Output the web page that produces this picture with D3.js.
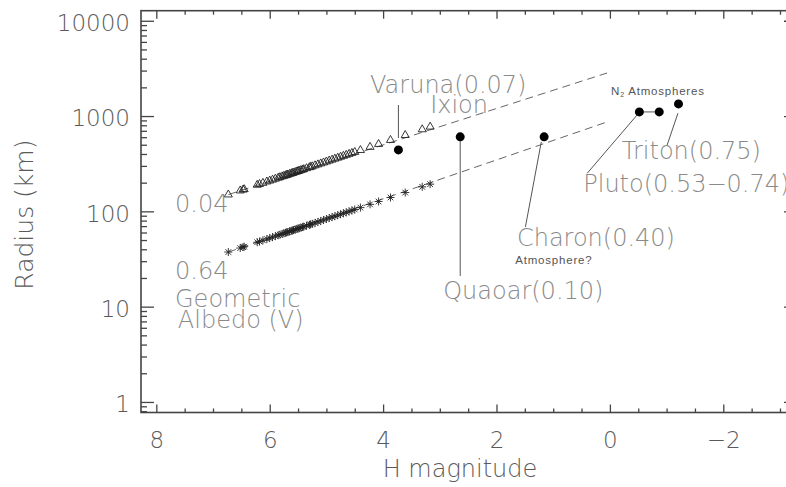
<!DOCTYPE html>
<html>
<head>
<meta charset="utf-8">
<script src="https://cdn.jsdelivr.net/npm/d3@7"></script>
<style>
    body { margin: 0; background: #fff; }
    svg { display: block; }
    .lbl { font-family: "DejaVu Sans", sans-serif; font-weight: 200; }
    .small { font-family: "Liberation Sans", Arial, sans-serif; letter-spacing: 0.8px; }
</style>
</head>
<body>
<script>
// H magnitude of each TNO (every object is plotted twice, once per albedo)
const H_MAG = [6.73, 6.52, 6.47, 6.45, 6.22, 6.18, 6.12, 6.05, 6.00, 5.95, 5.90, 5.85, 5.82, 5.78,
    5.75, 5.72, 5.70, 5.68, 5.65, 5.62, 5.60, 5.58, 5.55, 5.52, 5.50, 5.48, 5.45, 5.42, 5.40,
    5.35, 5.30, 5.28, 5.25, 5.20, 5.15, 5.10, 5.05, 5.00, 4.95, 4.90, 4.85, 4.80, 4.75, 4.70,
    4.65, 4.60, 4.55, 4.50, 4.40, 4.23, 4.08, 3.87, 3.61, 3.31, 3.17];

// radius (km) for albedo 0.04 (triangles)
const RADIUS_DARK = [149.8, 165.0, 168.8, 170.4, 189.4, 193.0, 198.4, 204.9, 209.6, 214.5, 219.5,
    224.6, 227.8, 232.0, 235.2, 238.5, 240.7, 242.9, 246.3, 249.7, 252.0, 254.4, 257.9, 261.5,
    263.9, 266.4, 270.1, 273.8, 276.4, 282.8, 289.4, 292.1, 296.1, 303.0, 310.1, 317.3, 324.7,
    332.3, 340.0, 347.9, 356.0, 364.3, 372.8, 381.5, 390.4, 399.5, 408.8, 418.3, 438.0, 473.7,
    507.5, 559.1, 630.2, 723.5, 771.7];

// radius (km) for albedo 0.64 (asterisks)
const RADIUS_BRIGHT = [37.4, 41.2, 42.2, 42.6, 47.4, 48.2, 49.6, 51.2, 52.4, 53.6, 54.9, 56.2,
    56.9, 58.0, 58.8, 59.6, 60.2, 60.7, 61.6, 62.4, 63.0, 63.6, 64.5, 65.4, 66.0, 66.6, 67.5,
    68.5, 69.1, 70.7, 72.3, 73.0, 74.0, 75.7, 77.5, 79.3, 81.2, 83.1, 85.0, 87.0, 89.0, 91.1,
    93.2, 95.4, 97.6, 99.9, 102.2, 104.6, 109.5, 118.4, 126.9, 139.8, 157.5, 180.9, 192.9];

// dashed albedo lines [H, radius]
const LINE_DARK = [[6.73, 149.8], [0.05, 2830]];
const LINE_BRIGHT = [[6.73, 37.4], [0.05, 867]];

// large bodies with measured sizes
const BODY_H = [3.73, 2.64, 1.16, -0.52, -0.87, -1.21];
const BODY_R = [441, 605, 605, 1105, 1105, 1340];

// leader lines [[H1, R1], [H2, R2]]
const LEADERS = [
    [[3.73, 1307], [3.73, 589]],    // Varuna
    [[2.64, 605], [2.64, 21]],      // Quaoar
    [[1.21, 535], [1.49, 68.6]],    // Charon
    [[-0.48, 1027], [0.40, 251]],   // Pluto
    [[-1.20, 1070], [-1.01, 497]],  // Triton
    [[-0.52, 1105], [-0.87, 1105]]  // Pluto range
];

// labels [text, H, R, class]
const LABELS = [
    ["Varuna(0.07)", 4.23, 1746, "big"],
    ["Ixion", 3.17, 1077, "big"],
    ["0.04", 7.67, 98.6, "big"],
    ["0.64", 7.67, 19.5, "big"],
    ["Geometric", 7.67, 9.93, "big"],
    ["Albedo (V)", 7.62, 5.98, "big"],
    ["Quaoar(0.10)", 2.94, 12.0, "big"],
    ["Charon(0.40)", 1.64, 43.4, "big"],
    ["Triton(0.75)", -0.21, 354, "big"],
    ["Pluto(0.53\u22120.74)", 0.47, 160, "big"],
    ["Atmosphere?", 1.67, 28.1, "small"],
];

const X_DOMAIN = [8.27, -3.3];
const Y_DOMAIN = [0.775, 12750];
const X_MAJOR = [8, 6, 4, 2, 0, -2];
const Y_MAJOR = [1, 10, 100, 1000, 10000];

const width = 786, height = 487;
const plotLeft = 141, plotRight = 797, plotTop = 10.7, plotBottom = 412.5;

const svg = d3.select("body").append("svg")
    .attr("width", width)
    .attr("height", height);

const x = d3.scaleLinear().domain(X_DOMAIN).range([plotLeft, plotRight]);
const y = d3.scaleLog().domain(Y_DOMAIN).range([plotBottom, plotTop]);

const xMinor = d3.range(-3, 8.01, 0.5).filter(v => X_MAJOR.indexOf(v) < 0);
const yMinor = y.ticks().filter(v => Y_MAJOR.indexOf(v) < 0);

const axisColor = "#444";

function styleAxis(g) {
    g.select(".domain").remove();
    g.selectAll("line").attr("stroke", axisColor).attr("stroke-width", 1.3);
    g.selectAll("text")
        .attr("class", "lbl")
        .attr("fill", "#5a5a5a")
        .attr("font-size", 23);
}

// bottom axis
svg.append("g").attr("transform", `translate(0,${plotBottom})`)
    .call(d3.axisBottom(x).tickValues(X_MAJOR).tickSize(-8).tickPadding(19).tickFormat(d3.format("d")))
    .call(styleAxis);
svg.append("g").attr("transform", `translate(0,${plotBottom})`)
    .call(d3.axisBottom(x).tickValues(xMinor).tickSize(-4).tickFormat(""))
    .call(styleAxis);
// top axis
svg.append("g").attr("transform", `translate(0,${plotTop})`)
    .call(d3.axisTop(x).tickValues(X_MAJOR).tickSize(-8).tickFormat(""))
    .call(styleAxis);
svg.append("g").attr("transform", `translate(0,${plotTop})`)
    .call(d3.axisTop(x).tickValues(xMinor).tickSize(-4).tickFormat(""))
    .call(styleAxis);
// left axis
svg.append("g").attr("transform", `translate(${plotLeft},0)`)
    .call(d3.axisLeft(y).tickValues(Y_MAJOR).tickSize(-13).tickPadding(11).tickFormat(d3.format("d")))
    .call(styleAxis)
    .selectAll("text").attr("dy", "0.43em");
svg.append("g").attr("transform", `translate(${plotLeft},0)`)
    .call(d3.axisLeft(y).tickValues(yMinor).tickSize(-6).tickFormat(""))
    .call(styleAxis);
// right axis
svg.append("g").attr("transform", `translate(${plotRight},0)`)
    .call(d3.axisRight(y).tickValues(Y_MAJOR).tickSize(-13).tickFormat(""))
    .call(styleAxis);
svg.append("g").attr("transform", `translate(${plotRight},0)`)
    .call(d3.axisRight(y).tickValues(yMinor).tickSize(-6).tickFormat(""))
    .call(styleAxis);

// frame
svg.append("rect")
    .attr("x", plotLeft).attr("y", plotTop)
    .attr("width", plotRight - plotLeft).attr("height", plotBottom - plotTop)
    .attr("fill", "none")
    .attr("stroke", axisColor)
    .attr("stroke-width", 1.6);

// axis titles
svg.append("text")
    .attr("class", "lbl")
    .attr("x", (plotLeft + 785) / 2 - 3).attr("y", 477)
    .attr("text-anchor", "middle")
    .attr("font-size", 24)
    .attr("fill", "#5a5a5a")
    .text("H magnitude");

svg.append("text")
    .attr("class", "lbl")
    .attr("transform", `translate(33,${(plotTop + plotBottom) / 2 + 3}) rotate(-90)`)
    .attr("text-anchor", "middle")
    .attr("font-size", 25)
    .attr("fill", "#5a5a5a")
    .text("Radius (km)");

const line = d3.line().x(d => x(d[0])).y(d => y(d[1]));

// albedo lines
[LINE_DARK, LINE_BRIGHT].forEach(pts => {
    svg.append("path")
        .attr("d", line(pts))
        .attr("fill", "none")
        .attr("stroke", "#666")
        .attr("stroke-width", 1)
        .attr("stroke-dasharray", "8,5");
});

// leader lines
svg.append("g").selectAll("path")
    .data(LEADERS)
    .enter().append("path")
    .attr("d", d => line(d))
    .attr("fill", "none")
    .attr("stroke", "#555")
    .attr("stroke-width", 1);

// triangles (p = 0.04)
svg.append("g").selectAll("path")
    .data(H_MAG.map((h, i) => [h, RADIUS_DARK[i]]))
    .enter().append("path")
    .attr("transform", d => `translate(${x(d[0])},${y(d[1])})`)
    .attr("d", d3.symbol(d3.symbolTriangle, 28))
    .attr("fill", "none")
    .attr("stroke", "#222")
    .attr("stroke-width", 0.9);

// asterisks (p = 0.64)
const asterisk = {
    draw(context, size) {
        const r = Math.sqrt(size) / 2, s = r * 0.7071;
        context.moveTo(-r, 0); context.lineTo(r, 0);
        context.moveTo(0, -r); context.lineTo(0, r);
        context.moveTo(-s, -s); context.lineTo(s, s);
        context.moveTo(-s, s); context.lineTo(s, -s);
    }
};
svg.append("g").selectAll("path")
    .data(H_MAG.map((h, i) => [h, RADIUS_BRIGHT[i]]))
    .enter().append("path")
    .attr("transform", d => `translate(${x(d[0])},${y(d[1])})`)
    .attr("d", d3.symbol(asterisk, 64))
    .attr("fill", "none")
    .attr("stroke", "#222")
    .attr("stroke-width", 0.9);

// large bodies
svg.append("g").selectAll("circle")
    .data(BODY_H.map((h, i) => [h, BODY_R[i]]))
    .enter().append("circle")
    .attr("cx", d => x(d[0]))
    .attr("cy", d => y(d[1]))
    .attr("r", 4.5)
    .attr("fill", "#000");

// labels
svg.append("g").selectAll("text")
    .data(LABELS)
    .enter().append("text")
    .attr("class", d => d[3] == "big" ? "lbl" : "small")
    .attr("x", d => x(d[1]))
    .attr("y", d => y(d[2]))
    .attr("font-size", d => d[3] == "big" ? 24 : 11.5)
    .attr("fill", d => d[3] == "big" ? "#8a8a8a" : "#555")
    .text(d => d[0]);

// N2 label with subscript
const n2 = svg.append("text")
    .attr("class", "small")
    .attr("x", x(-0.02)).attr("y", y(1664))
    .attr("font-size", 11.5)
    .attr("fill", "#555");
n2.append("tspan").text("N");
n2.append("tspan").attr("font-size", 7).attr("dy", 2).text("2");
n2.append("tspan").attr("dy", -2).text(" Atmospheres");
</script>
</body>
</html>
